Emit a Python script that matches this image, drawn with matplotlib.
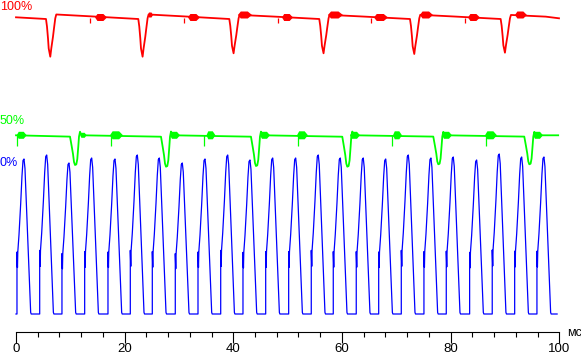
import matplotlib.pyplot as plt
import numpy as np
from matplotlib.ticker import MultipleLocator

# time in ms, levels are rows of the screen (0 = top)
blue_base = 314
blue_peak_t = [1.47, 5.65, 9.75, 13.93, 18.22, 22.33, 26.38, 30.61, 34.79, 38.97, 43.07, 47.25,
               51.48, 55.64, 59.69, 63.92, 68.05, 72.21, 76.38, 80.49, 84.79, 88.95, 93.08, 97.18]
blue_peak_h = [155, 159, 151, 156, 155, 159, 156, 151, 155, 159, 154, 156,
               156, 159, 156, 156, 155, 159, 156, 157, 154, 160, 157, 157]
# one pulse, time from the peak and share of the peak height
blue_shape_dt = [-1.29, -1.29, -1.20, -1.14, -0.92, -0.61, -0.37, -0.18, 0.0,
                 0.18, 0.42, 0.61, 0.87, 1.05, 1.23, 1.33]
blue_shape_k = [0.0, 0.40, 0.30, 0.40, 0.51, 0.71, 0.89, 0.99, 1.0,
                0.94, 0.73, 0.56, 0.34, 0.17, 0.01, 0.0]
blue_end = 99.6

red_base = 19
red_dip_t = [5.52, 22.51, 39.26, 55.82, 72.52, 89.21]
red_dip_bottom = [56.7, 56.7, 53.3, 53.3, 54.0, 52.7]
red_shape_dt = [0.0, 0.184, 0.368, 0.497, 0.791, 0.976, 1.288, 1.472, 1.712, 1.896, 8.3]
red_shape_k = [0.0, 0.20, 0.51, 0.78, 1.0, 0.78, 0.47, 0.25, -0.02, -0.12, -0.07]
red_start = (0.0, 17.3)
red_end = (99.95, 18.3)
red_burst_t = [15.65, 24.76, 32.76, 42.15, 49.97, 58.81, 67.18, 75.55, 84.30, 92.95]
red_burst_w = [1.1, 0.46, 1.1, 1.29, 1.01, 1.38, 1.29, 1.2, 1.1, 1.1]
red_burst_y = [17.5, 15.0, 17.5, 15.0, 17.5, 15.0, 17.5, 15.0, 17.5, 15.0]
red_burst_h = [3.5, 2.5, 3.5, 3.5, 3.5, 3.5, 3.5, 3.5, 3.5, 3.5]
red_spike_t = [13.62, 31.01, 48.17, 65.34, 82.64]

green_base = 135.3
green_dip_t = [9.94, 26.69, 43.25, 60.06, 76.81, 93.56]
green_dip_bottom = [165.0, 166.7, 166.0, 166.7, 164.3, 164.3]
green_shape_dt = [0.0, 0.313, 0.552, 0.736, 0.920, 1.160, 1.344, 1.528, 1.657, 1.841, 2.025, 2.4]
green_shape_k = [0.045, 0.37, 0.63, 0.90, 1.0, 0.98, 0.80, 0.37, 0.045, -0.12, -0.04, 0.0]
green_end = 99.8
green_burst_t = [1.05, 12.4, 18.5, 29.26, 35.89, 45.83, 52.73, 62.4, 70.22, 79.33, 87.43, 96.08]
green_burst_w = [0.92, 0.6, 1.2, 0.92, 0.83, 0.92, 1.01, 0.92, 0.83, 0.92, 1.1, 0.92]
green_burst_h = [3.5, 2.5, 4, 3.5, 4, 3.5, 4, 3.5, 4, 3.5, 4, 3.5]
green_spike_t = [0.13, 17.49, 34.6, 51.96, 69.26, 86.45]

x_ticks = [0, 20, 40, 60, 80, 100]
axis_row = 331.5

RED = '#ff0000'
GREEN = '#00ff00'
BLUE = '#0000ff'


def burst(ax, t, w, y, h, color):
    xs = [t - w, t - 0.6 * w, t + 0.4 * w, t + w, t + 0.4 * w, t - 0.6 * w]
    ys = [y, y - h, y - h, y, y + h, y + h]
    ax.fill(xs, ys, color=color, lw=0)


fig = plt.figure(figsize=(5.81, 3.57), dpi=100)
ax = fig.add_axes([0, 0, 1, 1])
ax.set_xlim(-2.945, 104.0)
ax.set_ylim(357, 0)

# blue
bx, by = [0.0], [blue_base]
for t, h in zip(blue_peak_t, blue_peak_h):
    for dt, k in zip(blue_shape_dt, blue_shape_k):
        bx.append(t + dt)
        by.append(blue_base - h * k)
bx.append(blue_end)
by.append(blue_base)
ax.plot(bx, by, color=BLUE, lw=0.9)

# red
rx, ry = [red_start[0]], [red_start[1]]
for t, b in zip(red_dip_t, red_dip_bottom):
    for dt, k in zip(red_shape_dt, red_shape_k):
        rx.append(t + dt)
        ry.append(red_base + (b - red_base) * k)
rx.append(red_end[0])
ry.append(red_end[1])
ax.plot(rx, ry, color=RED, lw=1.3)
for t, w, y, h in zip(red_burst_t, red_burst_w, red_burst_y, red_burst_h):
    burst(ax, t, w, y, h, RED)
ax.vlines(red_spike_t, 17.5, 22.7, color=RED, lw=0.9)

# green
gx, gy = [0.0], [green_base]
for t, b in zip(green_dip_t, green_dip_bottom):
    for dt, k in zip(green_shape_dt, green_shape_k):
        gx.append(t + dt)
        gy.append(green_base + (b - green_base) * k)
gx.append(green_end)
gy.append(green_base)
ax.plot(gx, gy, color=GREEN, lw=1.3)
for t, w, h in zip(green_burst_t, green_burst_w, green_burst_h):
    burst(ax, t, w, green_base, h, GREEN)
ax.vlines(green_spike_t, green_base, 145.5, color=GREEN, lw=0.9)

# labels
ax.text(-2.945, 0.5, '100%', color=RED, fontsize=9, ha='left', va='top', family='Liberation Sans')
ax.text(-2.945, 115.5, '50%', color=GREEN, fontsize=9, ha='left', va='top', family='Liberation Sans')
ax.text(-2.945, 156.5, '0%', color=BLUE, fontsize=9, ha='left', va='top', family='Liberation Sans')
ax.text(101.4, 335.5, 'мс', color='black', fontsize=9, ha='left', va='baseline', family='Liberation Sans')

# x axis
for s in ['top', 'left', 'right']:
    ax.spines[s].set_visible(False)
ax.spines['bottom'].set_position(('data', axis_row))
ax.spines['bottom'].set_bounds(0, 100)
ax.spines['bottom'].set_linewidth(0.8)
ax.set_xticks(x_ticks)
ax.xaxis.set_minor_locator(MultipleLocator(4))
ax.tick_params(axis='x', which='major', direction='out', length=8.0, width=0.8, pad=0, labelsize=9.5)
ax.tick_params(axis='x', which='minor', direction='out', length=3.8, width=0.8)
for lab in ax.get_xticklabels():
    lab.set_family('Liberation Sans')
ax.set_yticks([])
ax.patch.set_visible(False)

fig.savefig('out.png', dpi=100)
